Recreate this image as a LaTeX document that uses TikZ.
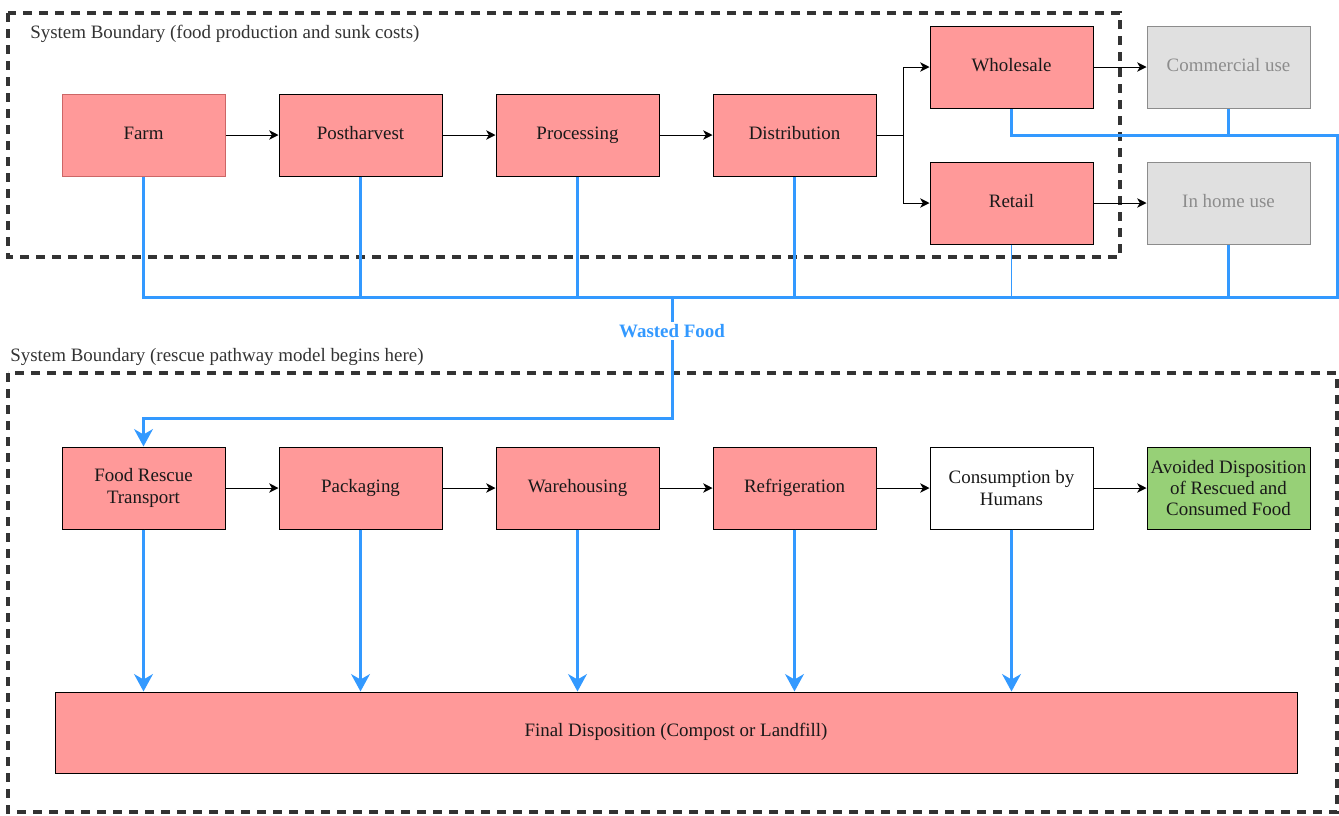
\documentclass[tikz,border=0pt]{standalone}
\usepackage{fontspec}
\setmainfont{Liberation Serif}
\usetikzlibrary{arrows.meta,positioning}
\tikzset{>=Stealth}
\definecolor{boxred}{HTML}{FF9999}
\definecolor{boxgrey}{HTML}{E0E0E0}
\definecolor{boxgreen}{HTML}{97D077}
\definecolor{wasteblue}{HTML}{3399FF}
\definecolor{farmedge}{HTML}{CC6666}
\definecolor{textgrey}{HTML}{8C8C8C}
\definecolor{darkline}{HTML}{333333}

\begin{document}
\begin{tikzpicture}[x=0.75pt,y=-0.75pt,
    every node/.style={font=\fontsize{14.2}{16.5}\selectfont},
    stage/.style={draw,line width=0.75pt,fill=boxred,minimum width=122.25pt,minimum height=61.5pt,align=center,inner sep=1pt,text=black!90},
    enduse/.style={stage,fill=boxgrey,draw=textgrey,text=textgrey},
    flow/.style={-{Stealth[length=7pt,width=7pt,inset=2pt]},line width=0.75pt},
    waste/.style={line width=2.25pt,wasteblue,line join=miter},
    wastearrow/.style={waste,-{Stealth[length=13pt,width=14pt,inset=4pt]}},
    boundary/.style={darkline,line width=2.3pt,dash pattern=on 6.75pt off 5.25pt}]
  \useasboundingbox (0,0) rectangle (1339,815);

  % system boundaries
  \draw[boundary] (8,13) rectangle (1120,257);
  \draw[boundary] (8,373) rectangle (1337,812);
  \node[anchor=west,text=darkline,inner sep=0pt] (topbound) at (30,34) {System Boundary (food production and sunk costs)};
  \node[anchor=west,text=darkline,inner sep=0pt] (lowbound) at (10,357) {System Boundary (rescue pathway model begins here)};

  % supply chain
  \node[stage,draw=farmedge] (farm) at (143.5,135) {Farm\strut};
  \node[stage] (postharvest) at (360.5,135) {Postharvest\strut};
  \node[stage] (processing) at (577.5,135) {Processing\strut};
  \node[stage] (distribution) at (794.5,135) {Distribution\strut};
  \node[stage] (wholesale) at (1011.5,67) {Wholesale\strut};
  \node[stage] (retail) at (1011.5,203) {Retail\strut};
  \node[enduse] (commercial) at (1228.5,67) {Commercial use\strut};
  \node[enduse] (inhome) at (1228.5,203) {In home use\strut};

  \draw[flow] (farm) -- (postharvest);
  \draw[flow] (postharvest) -- (processing);
  \draw[flow] (processing) -- (distribution);
  \coordinate (split) at (903,135);
  \draw[line width=0.75pt] (distribution) -- (split);
  \draw[flow] (split) |- (wholesale.west);
  \draw[flow] (split) |- (retail.west);
  \draw[flow] (wholesale) -- (commercial);
  \draw[flow] (retail) -- (inhome);

  % rescue pathway
  \node[stage] (rescue) at (143.5,488) {Food Rescue\\Transport};
  \node[stage] (packaging) at (360.5,488) {Packaging\strut};
  \node[stage] (warehousing) at (577.5,488) {Warehousing\strut};
  \node[stage] (refrigeration) at (794.5,488) {Refrigeration\strut};
  \node[stage,fill=white] (consumption) at (1011.5,488) {Consumption by\\Humans};
  \node[stage,fill=boxgreen,font=\fontsize{14.2}{16}\selectfont] (avoided) at (1228.5,488) {Avoided Disposition\\of Rescued and\\Consumed Food};
  \node[stage,minimum width=931.5pt,minimum height=60.75pt] (final) at (676,732.5) {Final Disposition (Compost or Landfill)\strut};

  \draw[flow] (rescue) -- (packaging);
  \draw[flow] (packaging) -- (warehousing);
  \draw[flow] (warehousing) -- (refrigeration);
  \draw[flow] (refrigeration) -- (consumption);
  \draw[flow] (consumption) -- (avoided);

  % wasted food collection
  \coordinate (bus) at (672,297);
  \coordinate (loop) at (1337,135);
  \coordinate (turn) at (672,418);
  \draw[waste] (farm.south) -- (farm.south |- bus) -- (loop |- bus) -- (loop) -- (wholesale.south |- loop) -- (wholesale.south);
  \draw[waste] (postharvest.south) -- (postharvest.south |- bus);
  \draw[waste] (processing.south) -- (processing.south |- bus);
  \draw[waste] (distribution.south) -- (distribution.south |- bus);
  \draw[waste] (commercial.south) -- (commercial.south |- loop);
  \draw[waste] (inhome.south) -- (inhome.south |- bus);
  \draw[wasteblue,line width=0.75pt] (retail.south) -- (retail.south |- bus);
  \draw[wastearrow] (bus) -- (turn) -| (rescue.north);
  \node[fill=white,text=wasteblue,font=\fontsize{14.2}{16}\bfseries,inner sep=2pt] (wasted) at (672,331) {Wasted Food};

  \foreach \src in {rescue,packaging,warehousing,refrigeration,consumption}
    \draw[wastearrow] (\src.south) -- (\src.south |- final.north);
\end{tikzpicture}
\end{document}
